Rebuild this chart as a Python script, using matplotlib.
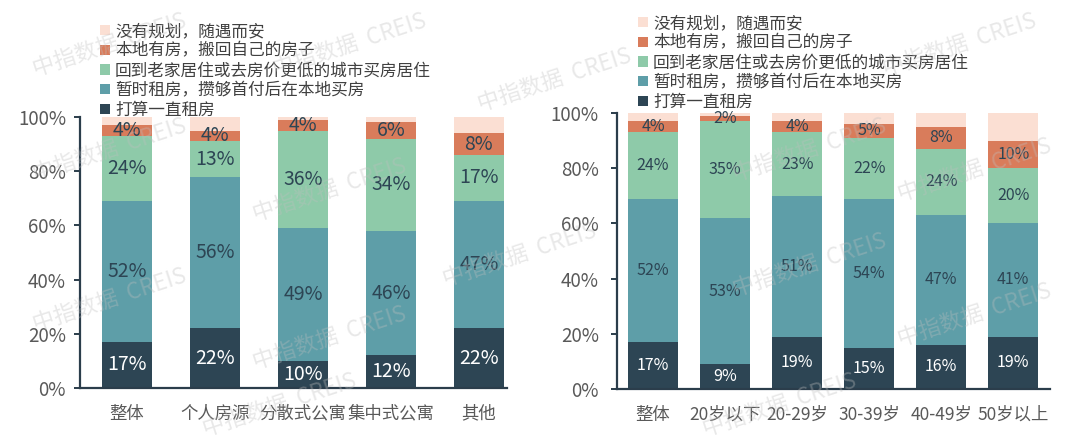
import numpy as np
import matplotlib
matplotlib.use('Agg')
import matplotlib.pyplot as plt
from matplotlib.patches import Patch

plt.rcParams['font.family'] = ['Noto Sans CJK SC', 'DejaVu Sans']

SERIES = ['打算一直租房', '暂时租房，攒够首付后在本地买房', '回到老家居住或去房价更低的城市买房居住',
          '本地有房，搬回自己的房子', '没有规划，随遇而安']
COLORS = ['#2d4554', '#5e9ea8', '#8ecaa9', '#d97c5b', '#fbdfd3']

# 按房源类型
LEFT_CATS = ['整体', '个人房源', '分散式公寓', '集中式公寓', '其他']
LEFT_VALUES = [
    [17, 22, 10, 12, 22],   # 打算一直租房
    [52, 56, 49, 46, 47],   # 暂时租房
    [24, 13, 36, 34, 17],   # 回到老家
    [4, 4, 4, 6, 8],        # 本地有房
    [3, 5, 1, 2, 6],        # 没有规划
]

# 按年龄
RIGHT_CATS = ['整体', '20岁以下', '20-29岁', '30-39岁', '40-49岁', '50岁以上']
RIGHT_VALUES = [
    [17, 9, 19, 15, 16, 19],
    [52, 53, 51, 54, 47, 41],
    [24, 35, 23, 22, 24, 20],
    [4, 2, 4, 5, 8, 10],
    [3, 1, 3, 4, 5, 10],
]

YTICKS = [0, 20, 40, 60, 80, 100]
AXIS_COLOR = '#2b3d4b'
TEXT_COLOR = '#595959'
LABEL_DARK = '#2d4554'


def stacked(ax, cats, values, width, label_size, label_pad):
    x = np.arange(len(cats))
    bottom = np.zeros(len(cats))
    for i, vals in enumerate(values):
        vals = np.array(vals, dtype=float)
        ax.bar(x, vals, width, bottom=bottom, color=COLORS[i], zorder=2)
        if i < 4:
            for xi, b, v in zip(x, bottom, vals):
                ax.text(xi, b + v / 2, '{:.0f}%'.format(v), ha='center', va='center',
                        fontsize=label_size, color='white' if i == 0 else LABEL_DARK, zorder=3)
        bottom += vals

    ax.set_ylim(0, 100)
    ax.set_yticks(YTICKS)
    ax.set_yticklabels(['{}%'.format(t) for t in YTICKS])
    ax.set_xticks(x)
    ax.set_xticklabels(cats)
    for s in ['top', 'right']:
        ax.spines[s].set_visible(False)
    for s in ['left', 'bottom']:
        ax.spines[s].set_color(AXIS_COLOR)
        ax.spines[s].set_linewidth(1.6)
    ax.tick_params(axis='y', direction='out', length=4, width=1.4, color=AXIS_COLOR,
                   labelsize=13.5, labelcolor=TEXT_COLOR, pad=label_pad)
    ax.tick_params(axis='x', length=0, labelsize=12.5, labelcolor=TEXT_COLOR, pad=12)


fig = plt.figure(figsize=(10.72, 4.42), dpi=100)

ax1 = fig.add_axes([80 / 1072, 54 / 442, 427 / 1072, 271 / 442])
stacked(ax1, LEFT_CATS, LEFT_VALUES, 0.57, 14, 6)
ax1.set_xlim(-0.534, 4.32)

ax2 = fig.add_axes([617 / 1072, 53 / 442, 433 / 1072, 276 / 442])
stacked(ax2, RIGHT_CATS, RIGHT_VALUES, 0.69, 11.5, 9)
ax2.set_xlim(-0.5, 5.51)

handles = [Patch(facecolor=c, edgecolor='none') for c in COLORS][::-1]
labels = SERIES[::-1]
for x0, y0 in [(100, 23), (638, 15)]:
    fig.legend(handles, labels, loc='upper left', bbox_to_anchor=(x0 / 1072, 1 - y0 / 442),
               frameon=False, fontsize=12, handlelength=0.6, handleheight=0.6,
               handletextpad=0.3, labelspacing=0.16, borderaxespad=0, borderpad=0,
               labelcolor='#404040')

# watermark
marks = [(110, 45), (350, 45), (555, 80), (960, 45), (110, 150), (330, 190),
         (110, 300), (330, 338), (810, 150), (810, 265), (975, 170), (975, 315),
         (280, 405), (780, 405), (520, 255)]
for mx, my in marks:
    fig.text(mx / 1072, 1 - my / 442, '中指数据  CREIS', fontsize=16, color='#bfbfbf',
             alpha=0.35, rotation=18, ha='center', va='center', zorder=10)

fig.savefig('out.png', dpi=100)
